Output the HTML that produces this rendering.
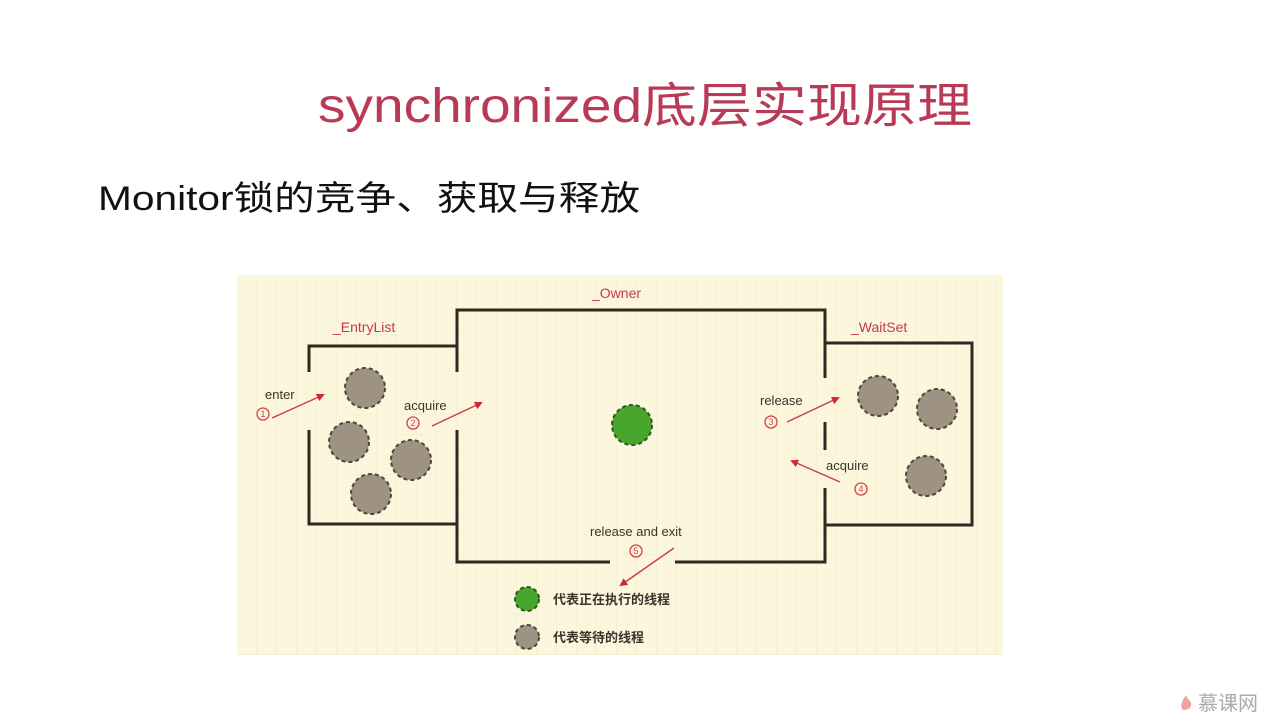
<!DOCTYPE html>
<html><head><meta charset="utf-8"><style>
html,body{margin:0;padding:0;background:#fff;}
svg{display:block;}
</style></head><body>
<svg width="1280" height="720" viewBox="0 0 1280 720" xmlns="http://www.w3.org/2000/svg">
<defs>
<pattern id="g" width="20" height="20" patternUnits="userSpaceOnUse" x="237" y="275">
<rect width="20" height="20" fill="#fcf6dc"/>
<path d="M20 0V20M0 20H20" stroke="#f1e9cc" stroke-width="1"/>
</pattern>
<marker id="ah" markerWidth="8" markerHeight="8" refX="6" refY="4" orient="auto" markerUnits="userSpaceOnUse"><path d="M0 0L8 4L0 8z" fill="#d0283a"/></marker>
</defs>
<rect width="1280" height="720" fill="#fff"/>
<text x="318" y="122" font-family="'Liberation Sans','Noto Sans CJK SC',sans-serif" font-size="48" fill="#b83a55" textLength="654" lengthAdjust="spacingAndGlyphs">synchronized底层实现原理</text>
<text x="98" y="210" font-family="'Liberation Sans','Noto Sans CJK SC',sans-serif" font-size="34" fill="#111" textLength="542" lengthAdjust="spacingAndGlyphs">Monitor锁的竞争、获取与释放</text>
<rect x="237" y="275" width="766" height="380" fill="url(#g)"/>
<g stroke="#2e2a22" stroke-width="3" fill="none">
<path d="M309 372V346H457"/><path d="M309 430V524H457"/>
<path d="M457 372V310H825V378"/><path d="M457 430V562H610"/><path d="M675 562H825V488"/>
<path d="M825 422V450"/>
<path d="M825 343H972V525H825"/>
</g>
<g font-family="'Liberation Sans',sans-serif" font-size="14">
<text x="592" y="298" fill="#c23a4a">_Owner</text>
<text x="333" y="332" fill="#c23a4a">_EntryList</text>
<text x="851" y="332" fill="#c23a4a">_WaitSet</text>
<text x="265" y="399" fill="#3a342c" font-size="13">enter</text>
<text x="404" y="410" fill="#3a342c" font-size="13">acquire</text>
<text x="760" y="405" fill="#3a342c" font-size="13">release</text>
<text x="826" y="470" fill="#3a342c" font-size="13">acquire</text>
<text x="590" y="536" fill="#3a342c" font-size="13">release and exit</text>
</g>
<g stroke="#d24050" stroke-width="1.3" fill="none">
<circle cx="263" cy="414" r="6"/><circle cx="413" cy="423" r="6"/><circle cx="771" cy="422" r="6"/><circle cx="861" cy="489" r="6"/><circle cx="636" cy="551" r="6"/>
</g>
<g font-family="'Liberation Sans',sans-serif" font-size="9" fill="#d24050" text-anchor="middle">
<text x="263" y="417">1</text><text x="413" y="426">2</text><text x="771" y="425">3</text><text x="861" y="492">4</text><text x="636" y="554">5</text>
</g>
<g stroke="#c84050" stroke-width="1.5" marker-end="url(#ah)">
<line x1="272" y1="418" x2="323" y2="395"/>
<line x1="432" y1="426" x2="481" y2="403"/>
<line x1="787" y1="422" x2="838" y2="398"/>
<line x1="840" y1="482" x2="792" y2="461"/>
<line x1="674" y1="548" x2="621" y2="585"/>
</g>
<g fill="#9e9282" stroke="#4e463a" stroke-width="2" stroke-dasharray="4 3">
<circle cx="365" cy="388" r="20"/><circle cx="349" cy="442" r="20"/><circle cx="411" cy="460" r="20"/><circle cx="371" cy="494" r="20"/>
<circle cx="878" cy="396" r="20"/><circle cx="937" cy="409" r="20"/><circle cx="926" cy="476" r="20"/>
<circle cx="527" cy="637" r="12"/>
</g>
<g fill="#4aa52e" stroke="#2a5a1a" stroke-width="2" stroke-dasharray="4 3">
<circle cx="632" cy="425" r="20"/><circle cx="527" cy="599" r="12"/>
</g>
<g font-family="'Noto Sans CJK SC',sans-serif" font-size="13" fill="#3a342c" font-weight="bold">
<text x="553" y="604">代表正在执行的线程</text>
<text x="553" y="642">代表等待的线程</text>
</g>
<text x="1198" y="710" font-family="'Noto Sans CJK SC',sans-serif" font-size="20" fill="#aaa">慕课网</text>
<path d="M1183 710c-4-5 0-10 3-15c1 4 4 5 5 8c1 4-2 7-8 7z" fill="#f3a0a0"/>
</svg>
</body></html>
